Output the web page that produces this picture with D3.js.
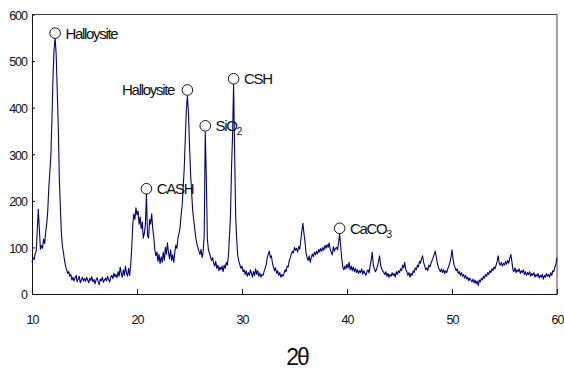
<!DOCTYPE html>
<html>
  <head>
    <meta charset="utf-8">
    <title>XRD pattern</title>
    <style>
      body { margin: 0; background: #fff; }
      text { font-family: "Liberation Sans", Arial, sans-serif; }
    </style>
  </head>
  <body>
    <div id="chart"></div>
    <script src="https://cdn.jsdelivr.net/npm/d3@7/dist/d3.min.js"></script>
    <script>
      // scan: 2-theta from 10 to 60, step 0.1 deg
      var startAngle = 10;
      var stepAngle = 0.1;
      var counts = [
        68, 78, 74, 86, 92, 135, 182, 140, 96, 104,
        98, 118, 108, 132, 150, 178, 228, 262, 300, 375,
        465, 525, 550, 515, 440, 360, 250, 185, 130, 102,
        88, 72, 60, 52, 44, 48, 38, 42, 30, 36,
        28, 34, 40, 26, 32, 38, 24, 30, 36, 28,
        33, 27, 36, 30, 24, 34, 29, 37, 26, 31,
        22, 30, 35, 27, 20, 32, 28, 36, 25, 30,
        34, 28, 38, 31, 26, 36, 40, 33, 45, 37,
        42, 35, 48, 38, 58, 44, 36, 52, 40, 60,
        45, 38, 55, 40, 62, 100, 150, 172, 160, 185,
        170, 178, 150, 165, 140, 155, 120, 130, 150, 215,
        125, 120, 160, 150, 172, 140, 122, 95, 82, 90,
        70, 85, 65, 80, 68, 90, 72, 100, 85, 110,
        88, 76, 95, 72, 84, 68, 90, 105, 98, 120,
        130, 142, 170, 190, 230, 270, 335, 395, 425, 390,
        320, 260, 220, 180, 160, 140, 120, 108, 100, 92,
        85, 96, 78, 90, 125, 348, 250, 120, 95, 88,
        80, 72, 78, 66, 60, 70, 55, 62, 50, 58,
        52, 60, 48, 62, 55, 68, 62, 80, 120, 165,
        268, 340, 450, 300, 165, 115, 82, 70, 62, 55,
        60, 48, 52, 42, 50, 38, 46, 40, 52, 44,
        36, 48, 40, 54, 42, 50, 38, 45, 36, 42,
        40, 48, 55, 62, 78, 85, 92, 78, 82, 66,
        58, 50, 56, 44, 50, 40, 46, 36, 42, 38,
        44, 52, 48, 60, 58, 72, 78, 86, 92, 88,
        100, 94, 98, 90, 102, 96, 115, 135, 152, 130,
        112, 88, 78, 72, 82, 68, 78, 86, 80, 90,
        84, 92, 86, 96, 90, 98, 92, 100, 94, 104,
        98, 106, 100, 110, 96, 90, 84, 102, 92, 98,
        100, 95, 110, 130, 102, 76, 58, 52, 60, 54,
        64, 56, 68, 52, 60, 50, 58, 48, 55, 46,
        52, 44, 50, 46, 54, 42, 50, 45, 40, 48,
        52, 45, 60, 72, 90, 62, 55, 48, 52, 60,
        70, 82, 62, 54, 50, 46, 42, 48, 38, 44,
        36, 42, 38, 46, 40, 44, 36, 48, 42, 50,
        46, 54, 50, 62, 56, 68, 52, 48, 40, 46,
        36, 44, 40, 50, 46, 56, 52, 62, 58, 70,
        66, 76, 82, 68, 60, 52, 56, 50, 62, 58,
        66, 72, 78, 85, 92, 80, 66, 58, 52, 48,
        54, 46, 52, 44, 50, 46, 54, 60, 68, 78,
        95, 75, 62, 56, 50, 54, 44, 48, 40, 46,
        38, 42, 34, 40, 32, 36, 28, 34, 30, 26,
        32, 24, 30, 22, 28, 18, 30, 26, 34, 30,
        38, 34, 42, 38, 46, 42, 50, 46, 54, 50,
        58, 54, 62, 70, 82, 66, 62, 68, 60, 66,
        62, 70, 64, 72, 66, 76, 85, 70, 52, 48,
        56, 46, 52, 48, 54, 44, 50, 46, 52, 42,
        48, 40, 46, 42, 48, 38, 44, 40, 46, 36,
        42, 38, 44, 34, 40, 36, 42, 32, 40, 36,
        44, 38, 42, 36, 46, 40, 50, 48, 58, 64,
        78
      ];

      var xTicks = [10, 20, 30, 40, 50, 60];
      var yTicks = [0, 100, 200, 300, 400, 500, 600];

      // phase markers
      var peakNames = ['Halloysite', 'CASH', 'Halloysite', 'SiO', 'CSH', 'CaCO'];
      var peakSubs = ['', '', '', '2', '', '3'];
      var peakAngles = [12.2, 20.9, 24.8, 26.5, 29.2, 39.3];
      var peakMarks = [560, 226, 438, 361, 462, 141];
      var peakSide = ['right', 'right', 'left', 'right', 'right', 'right'];

      var width = 564;
      var height = 369;
      var margin = { top: 14.5, right: 7, bottom: 75, left: 32 };

      var svg = d3.select('#chart')
        .append('svg')
        .attr('width', width)
        .attr('height', height);

      var x = d3.scaleLinear()
        .domain([10, 60])
        .range([margin.left, width - margin.right]);
      var y = d3.scaleLinear()
        .domain([0, 600])
        .range([height - margin.bottom, margin.top]);

      var points = counts.map(function(c, i) {
        return [startAngle + i * stepAngle, c];
      });

      // frame
      svg.append('path')
        .attr('d', 'M' + x(10) + ',' + y(600) + 'H' + x(60) + 'V' + y(0))
        .attr('fill', 'none')
        .attr('stroke', '#444')
        .attr('stroke-width', 1);

      var line = d3.line()
        .x(function(d) { return x(d[0]); })
        .y(function(d) { return y(d[1]); });

      svg.append('path')
        .datum(points)
        .attr('d', line)
        .attr('fill', 'none')
        .attr('stroke', '#000080')
        .attr('stroke-width', 1.1)
        .attr('stroke-linejoin', 'round');

      var xAxis = svg.append('g')
        .attr('transform', 'translate(0,' + y(0) + ')')
        .call(d3.axisBottom(x).tickValues(xTicks).tickSizeInner(-5)
          .tickSizeOuter(0).tickPadding(21));
      var yAxis = svg.append('g')
        .attr('transform', 'translate(' + x(10) + ',0)')
        .call(d3.axisLeft(y).tickValues(yTicks).tickSizeInner(-3)
          .tickSizeOuter(0).tickPadding(5));

      [xAxis, yAxis].forEach(function(ax) {
        ax.attr('color', '#111');
        ax.selectAll('text')
          .style('fill', '#111')
          .style('font-size', '12.5px')
          .style('letter-spacing', '-1px')
          .style('font-family', '"Liberation Sans", Arial, sans-serif');
      });
      yAxis.selectAll('text').attr('dy', '0.38em');

      svg.append('text')
        .attr('x', 297)
        .attr('y', 365)
        .attr('text-anchor', 'middle')
        .style('font-size', '23px')
        .style('letter-spacing', '-2px')
        .style('fill', '#111')
        .text('2\u03b8');

      // markers
      var r = 5.3;
      var marks = svg.append('g');
      peakNames.forEach(function(name, i) {
        var cx = x(peakAngles[i]);
        var cy = y(peakMarks[i]);
        marks.append('circle')
          .attr('cx', cx)
          .attr('cy', cy)
          .attr('r', r)
          .attr('fill', '#fff')
          .attr('stroke', '#111')
          .attr('stroke-width', 1);
        var t = marks.append('text')
          .attr('x', peakSide[i] === 'right' ? cx + r + 5 : cx - r - 8)
          .attr('y', cy + 5.5)
          .attr('text-anchor', peakSide[i] === 'right' ? 'start' : 'end')
          .style('fill', '#111')
          .style('font-size', '15px')
          .style('letter-spacing', '-1.3px');
        t.append('tspan').text(name);
        if (peakSubs[i]) {
          t.append('tspan')
            .attr('dy', 4)
            .style('font-size', '10px')
            .text(peakSubs[i]);
        }
      });
    </script>
  </body>
</html>
